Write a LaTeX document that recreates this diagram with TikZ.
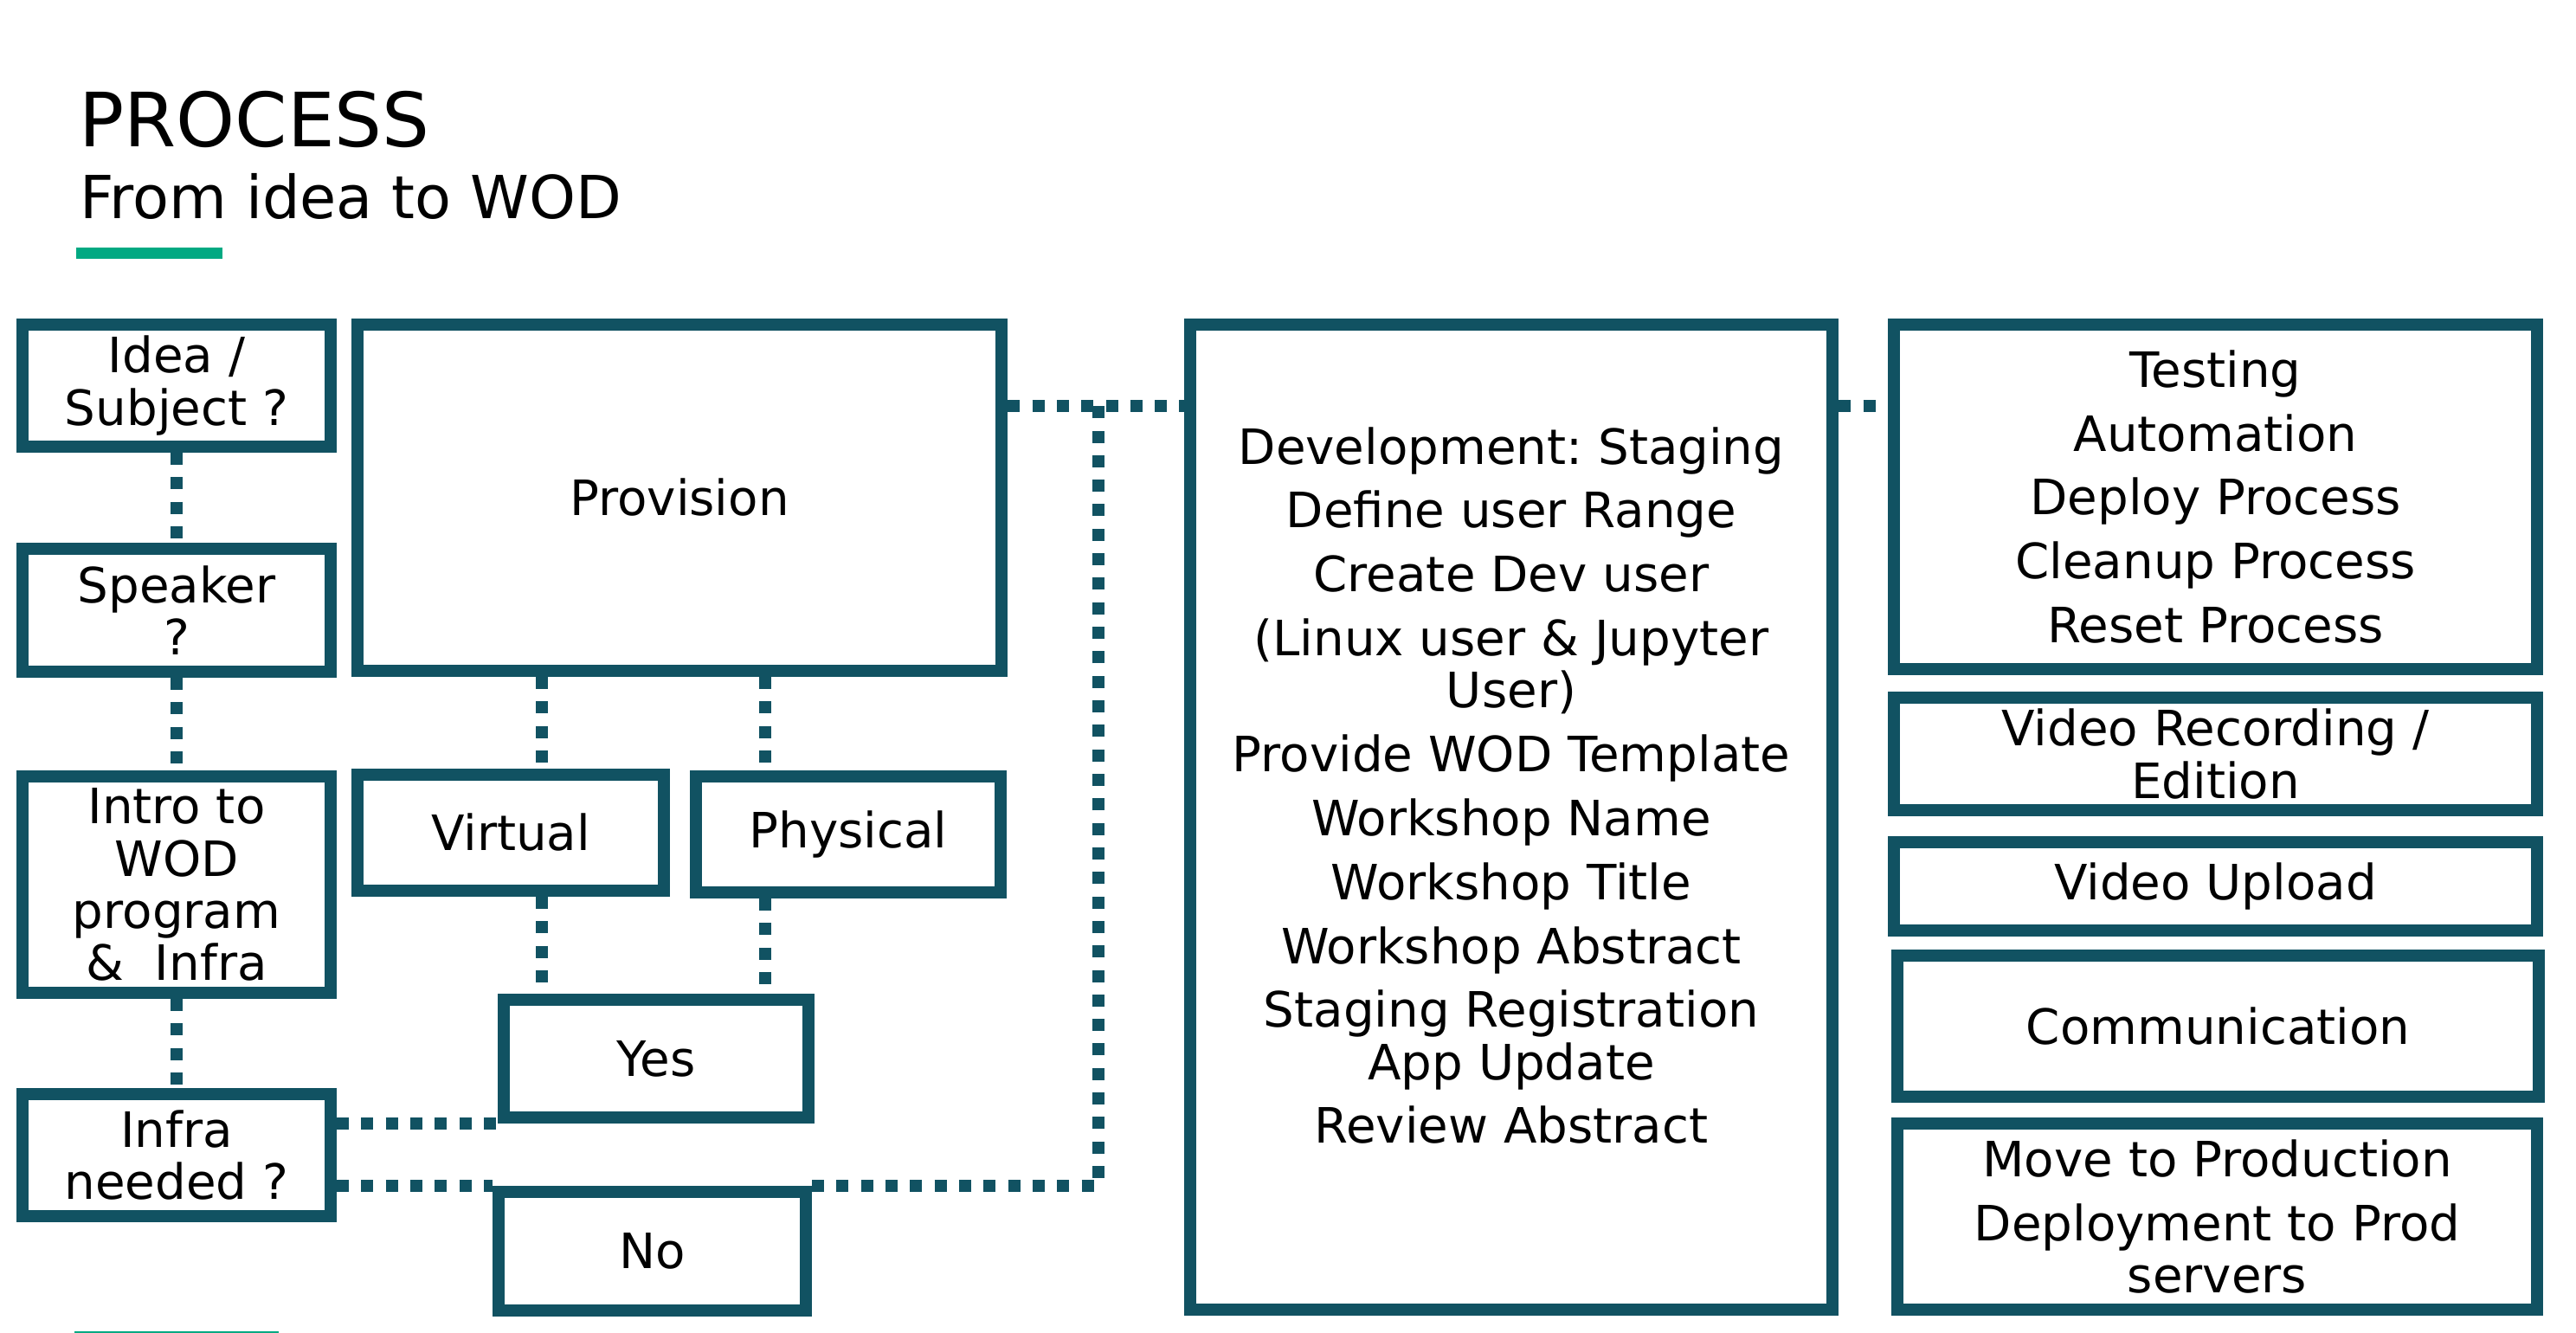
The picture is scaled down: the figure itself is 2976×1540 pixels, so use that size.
\documentclass[tikz,border=0pt]{standalone}
\usepackage{fontspec}
\setmainfont{DejaVu Sans}
\frenchspacing
\definecolor{wodteal}{RGB}{17,82,98}
\definecolor{wodgreen}{RGB}{1,169,130}

\begin{document}
\begin{tikzpicture}[x=0.01cm,y=-0.01cm,
        box/.style={draw=wodteal,line width=0.14cm,align=center,inner sep=0pt,
            font=\fontsize{16}{17.1}\selectfont},
        link/.style={wodteal,line width=0.14cm,dash pattern=on 0.14cm off 0.143cm}]
    \useasboundingbox (0,0) rectangle (2976,1540);
    % heading
    \node[anchor=base west,font=\fontsize{24.6}{28}\selectfont] (title) at (79,170) {PROCESS};
    \node[anchor=base west,font=\fontsize{19.5}{23}\selectfont] (subtitle) at (80,253) {From idea to WOD};
    \fill[wodgreen] (88,286) rectangle (257,299);
    \draw[wodgreen,line width=0.02cm] (86,1539) -- (322,1539);
    % left column
    \node[box,minimum width=3.56cm,minimum height=1.41cm] (idea) at (204,445.5) {Idea /\\Subject ?};
    \node[box,minimum width=3.56cm,minimum height=1.42cm] (speaker) at (204,705) {Speaker\\?};
    \node[box,minimum width=3.56cm,minimum height=2.50cm] (intro) at (204,1022) {Intro to\\WOD\\program\\\&\ \ Infra};
    \node[box,minimum width=3.56cm,minimum height=1.41cm] (infra) at (204,1334.5) {Infra\\needed ?};
    % provisioning
    \node[box,minimum width=7.44cm,minimum height=4.00cm] (prov) at (785,575) {Provision};
    \node[box,minimum width=3.54cm,minimum height=1.34cm] (virt) at (590,962) {Virtual};
    \node[box,minimum width=3.52cm,minimum height=1.34cm] (phys) at (980,964) {Physical};
    \node[box,minimum width=3.52cm,minimum height=1.36cm] (yes) at (758,1223) {Yes};
    \node[box,minimum width=3.55cm,minimum height=1.37cm] (no) at (753.5,1445.5) {No};
    % development
    \node[box,minimum width=7.42cm,minimum height=11.38cm] (dev) at (1746,944) {Development: Staging\\[3.9pt]
        Define user Range\\[3.9pt]
        Create Dev user\\[3.9pt]
        (Linux user \& Jupyter\\User)\\[3.9pt]
        Provide WOD Template\\[3.9pt]
        Workshop Name\\[3.9pt]
        Workshop Title\\[3.9pt]
        Workshop Abstract\\[3.9pt]
        Staging Registration\\App Update\\[3.9pt]
        Review Abstract\\[3.9pt]\mbox{}};
    % right column
    \node[box,minimum width=7.43cm,minimum height=3.98cm] (test) at (2559.5,574) {Testing\\[3.9pt]
        Automation\\[3.9pt]
        Deploy Process\\[3.9pt]
        Cleanup Process\\[3.9pt]
        Reset Process};
    \node[box,minimum width=7.43cm,minimum height=1.30cm] (rec) at (2559.5,871) {Video Recording /\\Edition};
    \node[box,minimum width=7.43cm,minimum height=1.02cm] (upload) at (2559.5,1024) {Video Upload};
    \node[box,minimum width=7.41cm,minimum height=1.63cm] (comm) at (2562.5,1185.5) {Communication};
    \node[box,minimum width=7.39cm,minimum height=2.15cm] (move) at (2561.5,1405.5) {Move to Production\\[3.9pt]
        Deployment to Prod\\servers};
    % connectors
    \coordinate (vx) at ([xshift=0.36cm]virt.center);
    \coordinate (px) at ([xshift=-0.96cm]phys.center);
    \coordinate (bend) at (1269,469);
    \draw[link] (idea) -- (speaker);
    \draw[link] (speaker) -- (intro);
    \draw[link] (intro) -- (infra);
    \draw[link] (prov.south -| vx) -- (virt.north -| vx);
    \draw[link] (virt.south -| vx) -- (yes.north -| vx);
    \draw[link] (prov.south -| px) -- (phys.north -| px);
    \draw[link] (phys.south -| px) -- (yes.north -| px);
    \draw[link] (infra.east |- yes.south west) -- (yes.south west);
    \draw[link] (infra.east |- no.north west) -- (no.north west);
    \draw[link] (no.north east) -| (bend);
    \draw[link] (prov.east |- bend) -- (dev.west |- bend);
    \draw[link] (dev.east |- bend) -- (test.west |- bend);
\end{tikzpicture}
\end{document}
